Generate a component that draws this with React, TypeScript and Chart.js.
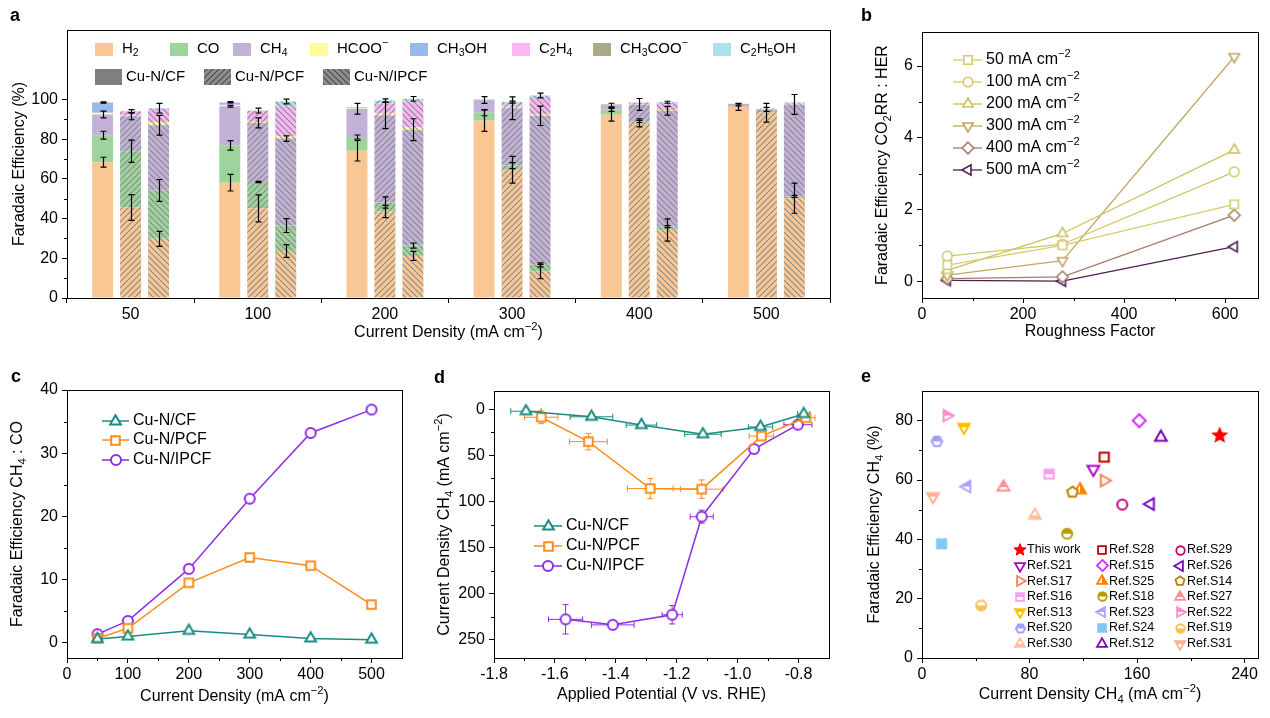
import React, { useEffect, useRef } from 'react';
import { Chart, registerables } from 'chart.js';
Chart.register(...registerables);

const FONT = '"Liberation Sans", Arial, Helvetica, sans-serif';

// ---------------- Panel a data ----------------
const densityLabels = ['50', '100', '200', '300', '400', '500'];
const productNames = ['H_{2}', 'CO', 'CH_{4}', 'HCOO^{−}', 'CH_{3}OH', 'C_{2}H_{4}', 'CH_{3}COO^{−}', 'C_{2}H_{5}OH'];
const productColors = ['#f9c794', '#9dd49b', '#c3b1d8', '#fdfd98', '#98b9ef', '#fab6f5', '#abab8c', '#abe1ea'];
const catalystNames = ['Cu-N/CF', 'Cu-N/PCF', 'Cu-N/IPCF'];

const cfH2 = [68.4, 58.1, 74.2, 89.4, 92.3, 96.3];
const cfCO = [13.6, 18.8, 6.9, 3.9, 2.7, 0];
const cfCH4 = [10.4, 19.7, 14.2, 6.4, 2.1, 1.0];
const cfHCOO = [0.9, 0.7, 0.3, 0, 0, 0];
const cfCH3OH = [5.0, 1.0, 0, 0.3, 0, 0];
const cfC2H4 = [0, 0.3, 0.7, 0, 0, 0];
const cfCH3COO = [0.2, 0, 0, 0, 0.4, 0.5];
const cfC2H5OH = [0, 0, 0, 0, 0, 0];

const pcfH2 = [45.6, 45.1, 43.6, 64.6, 88.2, 93.3];
const pcfCO = [28.3, 13.3, 4.5, 2.1, 0.7, 0.3];
const pcfCH4 = [17.7, 29.8, 43.8, 28.9, 8.6, 1.4];
const pcfHCOO = [0.3, 0.5, 1.0, 0.7, 0.2, 0.5];
const pcfCH3OH = [0, 0, 0, 0, 0, 0];
const pcfC2H4 = [2.2, 5.7, 5.1, 1.0, 0.8, 0];
const pcfCH3COO = [0, 0, 0, 0, 0, 0];
const pcfC2H5OH = [0, 0, 1.5, 1.4, 0, 0];

const ipcfH2 = [29.8, 23.7, 21.2, 13.3, 34.3, 50.3];
const ipcfCO = [24.4, 12.8, 5.2, 3.4, 1.7, 0.9];
const ipcfCH4 = [32.8, 43.8, 58.4, 75.1, 58.3, 46.3];
const ipcfHCOO = [1.4, 1.2, 1.2, 0.6, 0.3, 0];
const ipcfCH3OH = [0, 0, 0, 0, 0, 0];
const ipcfC2H4 = [6.9, 14.8, 13.0, 8.4, 3.2, 0.5];
const ipcfCH3COO = [0, 0, 0, 0, 0, 0];
const ipcfC2H5OH = [0.3, 2.7, 1.3, 1.2, 0.8, 0.5];

// error bars at H2 top, CO top, CH4 top, total top
const cfErrH2 = [2.5, 4.2, 5.2, 5.5, 3.2, 1.8];
const cfErrCO = [2.0, 2.4, 1.0, 1.5, 1.0, 0];
const cfErrCH4 = [1.7, 0.4, 2.7, 1.7, 1.0, 0.5];
const cfErrTop = [0.3, 0.3, 0, 0, 0, 0];
const pcfErrH2 = [6.5, 6.8, 3.1, 6.7, 2.0, 4.7];
const pcfErrCO = [5.6, 0.3, 2.8, 1.5, 0.5, 0];
const pcfErrCH4 = [1.8, 2.5, 6.6, 5.7, 3.0, 1.0];
const pcfErrTop = [0.8, 1.2, 0.8, 0.5, 0, 0];
const ipcfErrH2 = [3.8, 3.2, 2.3, 3.6, 5.6, 7.6];
const ipcfErrCO = [5.5, 3.5, 1.3, 1.0, 0.5, 0.5];
const ipcfErrCH4 = [5.0, 1.4, 5.5, 4.9, 2.2, 5.0];
const ipcfErrTop = [2.4, 1.2, 1.2, 1.2, 0.5, 0];

// ---------------- Panel b data ----------------
const roughness = [50, 278, 618];
const ratio50 = [0.45, 1.0, 2.14];
const ratio100 = [0.7, 1.03, 3.05];
const ratio200 = [0.3, 1.33, 3.66];
const ratio300 = [0.17, 0.57, 6.26];
const ratio400 = [0.07, 0.12, 1.84];
const ratio500 = [0.02, 0.0, 0.96];
const ratioLabels = ['50 mA cm^{−2}', '100 mA cm^{−2}', '200 mA cm^{−2}', '300 mA cm^{−2}', '400 mA cm^{−2}', '500 mA cm^{−2}'];
const ratioColors = ['#d3cd6c', '#d0c665', '#cdc060', '#c2a763', '#a87b6c', '#4d1f52'];

// ---------------- Panel c data ----------------
const densityC = [50, 100, 200, 300, 400, 500];
const ch4coCF = [0.6, 1.0, 1.9, 1.3, 0.7, 0.5];
const ch4coPCF = [0.7, 2.3, 9.5, 13.5, 12.2, 6.05];
const ch4coIPCF = [1.37, 3.47, 11.7, 22.8, 33.2, 36.9];
const seriesColors = ['#1b8c83', '#ff8c1a', '#8e2ee6'];

// ---------------- Panel d data ----------------
const potCF = [-1.695, -1.48, -1.316, -1.114, -0.925, -0.783];
const jCF = [2, 8, 17, 27, 19, 5];
const potErrCF = [0.05, 0.07, 0.05, 0.06, 0.04, 0.02];
const jErrCF = [1, 2, 2, 2, 2, 1];
const potPCF = [-1.645, -1.49, -1.287, -1.118, -0.922, -0.776];
const jPCF = [8.5, 35, 86, 86.6, 29, 9];
const potErrPCF = [0.055, 0.062, 0.075, 0.07, 0.04, 0.03];
const jErrPCF = [7, 9, 11, 10, 3, 2];
const potIPCF = [-1.565, -1.41, -1.215, -1.118, -0.946, -0.802];
const jIPCF = [228, 234, 223, 116.5, 43, 16.6];
const potErrIPCF = [0.056, 0.07, 0.033, 0.038, 0.01, 0.046];
const jErrIPCF = [16, 3, 10, 7, 2, 3];

// ---------------- Panel e data ----------------
const refLabels = ['This work', 'Ref.S28', 'Ref.S29', 'Ref.S21', 'Ref.S15', 'Ref.S26', 'Ref.S17', 'Ref.S25', 'Ref.S14', 'Ref.S16', 'Ref.S18', 'Ref.S27', 'Ref.S13', 'Ref.S23', 'Ref.S22', 'Ref.S20', 'Ref.S24', 'Ref.S19', 'Ref.S30', 'Ref.S12', 'Ref.S31'];
const refJ = [221.5, 135.6, 149, 127.5, 161.6, 170, 135.6, 117.6, 111.9, 94.6, 108, 60.6, 31.2, 33.4, 18.6, 11.1, 14.6, 44, 83.9, 177.7, 8.2];
const refFE = [75, 67.7, 51.7, 63.6, 80, 51.9, 59.8, 56.7, 55.9, 62, 41.9, 57.6, 77.8, 57.8, 81.7, 73, 38.5, 17.7, 48.1, 74.4, 54.4];
const refShapes = ['star', 'square', 'circle', 'triDown', 'diamond', 'triLeft', 'triRight', 'triUp', 'pentagon', 'square', 'circle', 'triUp', 'triDown', 'triLeft', 'triRight', 'hexagon', 'square', 'circle', 'triUp', 'triUp', 'triDown'];
const refColors = ['#ff0000', '#c00000', '#c0007a', '#b000c8', '#d42cff', '#7a00c0', '#ff7f50', '#ff8000', '#c08000', '#ff9df0', '#b89c00', '#ff9090', '#ffc000', '#b4a0ff', '#ff90c8', '#a0a0ff', '#80c8f8', '#ffc050', '#ffbfa0', '#7b00c0', '#ffb090'];
const refFills = ['full', 'none', 'none', 'none', 'none', 'none', 'none', 'right', 'none', 'top', 'top', 'top', 'top', 'top', 'top', 'top', 'full', 'bottom', 'bottom', 'none', 'top'];

// ---------------- helpers ----------------
function parseRich(s: string) {
  const out: { t: string; k: number }[] = [];
  const re = /([_^])\{([^}]*)\}/g;
  let last = 0;
  let m: any;
  while ((m = re.exec(s))) {
    if (m.index > last) out.push({ t: s.slice(last, m.index), k: 0 });
    out.push({ t: m[2], k: m[1] === '^' ? 1 : -1 });
    last = re.lastIndex;
  }
  if (last < s.length) out.push({ t: s.slice(last), k: 0 });
  return out;
}

function drawRich(ctx: any, s: string, x: number, y: number, size: number, align = 'left', rotate = false, color = '#000') {
  const segs = parseRich(s);
  const sub = size * 0.7;
  ctx.save();
  ctx.translate(x, y);
  if (rotate) ctx.rotate(-Math.PI / 2);
  ctx.textBaseline = 'middle';
  ctx.textAlign = 'left';
  ctx.fillStyle = color;
  let w = 0;
  const ws = segs.map((sg) => {
    ctx.font = `${sg.k ? sub : size}px ${FONT}`;
    const mw = ctx.measureText(sg.t).width;
    w += mw;
    return mw;
  });
  let cx = align === 'center' ? -w / 2 : align === 'right' ? -w : 0;
  segs.forEach((sg, i) => {
    ctx.font = `${sg.k ? sub : size}px ${FONT}`;
    const dy = sg.k === -1 ? size * 0.3 : sg.k === 1 ? -size * 0.36 : 0;
    ctx.fillText(sg.t, cx, dy);
    cx += ws[i];
  });
  ctx.restore();
}

function shapePath(g: any, shape: string, R: number) {
  g.beginPath();
  const poly = (n: number, rot: number, rad: number) => {
    for (let i = 0; i < n; i++) {
      const a = rot + (i * 2 * Math.PI) / n;
      const px = rad * Math.cos(a);
      const py = rad * Math.sin(a);
      if (i) g.lineTo(px, py);
      else g.moveTo(px, py);
    }
    g.closePath();
  };
  switch (shape) {
    case 'circle': g.arc(0, 0, R, 0, Math.PI * 2); break;
    case 'square': g.rect(-R, -R, 2 * R, 2 * R); break;
    case 'triUp': poly(3, -Math.PI / 2, R); break;
    case 'triDown': poly(3, Math.PI / 2, R); break;
    case 'triLeft': poly(3, Math.PI, R); break;
    case 'triRight': poly(3, 0, R); break;
    case 'diamond': poly(4, -Math.PI / 2, R); break;
    case 'pentagon': poly(5, -Math.PI / 2, R); break;
    case 'hexagon': poly(6, 0, R); break;
    case 'star': {
      for (let i = 0; i < 10; i++) {
        const a = -Math.PI / 2 + (i * Math.PI) / 5;
        const rr = i % 2 ? R * 0.45 : R;
        const px = rr * Math.cos(a);
        const py = rr * Math.sin(a);
        if (i) g.lineTo(px, py);
        else g.moveTo(px, py);
      }
      g.closePath();
      break;
    }
  }
}

function makeMarker(shape: string, color: string, fill: string, R: number, lw: number) {
  const size = Math.ceil(2 * R + lw + 4);
  const c = document.createElement('canvas');
  c.width = size;
  c.height = size;
  const g = c.getContext('2d') as any;
  g.translate(size / 2, size / 2);
  g.lineWidth = lw;
  g.strokeStyle = color;
  g.lineJoin = 'miter';
  shapePath(g, shape, R);
  g.fillStyle = '#fff';
  g.fill();
  if (fill !== 'none') {
    g.save();
    if (fill !== 'full') {
      g.beginPath();
      const L = size;
      if (fill === 'top') g.rect(-L, -L, 2 * L, L);
      else if (fill === 'bottom') g.rect(-L, 0, 2 * L, L);
      else if (fill === 'left') g.rect(-L, -L, L, 2 * L);
      else g.rect(0, -L, L, 2 * L);
      g.clip();
    }
    shapePath(g, shape, R);
    g.fillStyle = color;
    g.fill();
    g.restore();
  }
  shapePath(g, shape, R);
  g.stroke();
  return c;
}

function makeHatch(ctx: any, color: string, dir: number, lineColor: string) {
  const s = 6;
  const c = document.createElement('canvas');
  c.width = s;
  c.height = s;
  const g = c.getContext('2d') as any;
  g.fillStyle = color;
  g.fillRect(0, 0, s, s);
  g.strokeStyle = lineColor;
  g.lineWidth = 1.1;
  g.beginPath();
  if (dir === 1) {
    g.moveTo(0, s); g.lineTo(s, 0);
    g.moveTo(-1, 1); g.lineTo(1, -1);
    g.moveTo(s - 1, s + 1); g.lineTo(s + 1, s - 1);
  } else {
    g.moveTo(0, 0); g.lineTo(s, s);
    g.moveTo(s - 1, -1); g.lineTo(s + 1, 1);
    g.moveTo(-1, s - 1); g.lineTo(1, s + 1);
  }
  g.stroke();
  return ctx.createPattern(c, 'repeat');
}

const tickFont = { family: FONT, size: 16 };

function gridOpts(extra: any = {}) {
  return { display: true, drawOnChartArea: false, drawTicks: true, tickLength: 5, color: '#000', lineWidth: 1, ...extra };
}

function linAxis(min: number, max: number, major: number[], fix: number, vertical: boolean, extra: any = {}) {
  return {
    type: 'linear',
    min,
    max,
    afterBuildTicks: (s: any) => { s.ticks = major.map((v) => ({ value: v })); },
    afterFit: (s: any) => { if (vertical) s.width = fix; else s.height = fix; },
    grid: gridOpts(),
    border: { display: false },
    ticks: { color: '#000', font: tickFont, padding: vertical ? 4 : 2, maxRotation: 0, autoSkip: false, ...(extra.ticks || {}) },
    reverse: !!extra.reverse,
  };
}

function decoPlugin(cfg: any) {
  return {
    id: 'deco' + Math.random().toString(36).slice(2),
    beforeDatasetsDraw(chart: any) { if (cfg.before) cfg.before(chart); },
    afterDatasetsDraw(chart: any) { if (cfg.afterData) cfg.afterData(chart); },
    afterDraw(chart: any) {
      const { ctx, chartArea: a, scales } = chart;
      ctx.save();
      ctx.strokeStyle = '#000';
      ctx.lineWidth = 1;
      ctx.strokeRect(Math.round(a.left) + 0.5, Math.round(a.top) + 0.5, Math.round(a.right - a.left), Math.round(a.bottom - a.top));
      ctx.beginPath();
      (cfg.minorX || []).forEach((v: number) => {
        const x = Math.round(scales.x.getPixelForValue(v)) + 0.5;
        ctx.moveTo(x, a.bottom);
        ctx.lineTo(x, a.bottom + 3);
      });
      (cfg.minorY || []).forEach((v: number) => {
        const y = Math.round(scales.y.getPixelForValue(v)) + 0.5;
        ctx.moveTo(a.left, y);
        ctx.lineTo(a.left - 3, y);
      });
      ctx.stroke();
      ctx.restore();
      const cx = (a.left + a.right) / 2;
      const cy = (a.top + a.bottom) / 2;
      drawRich(ctx, cfg.xTitle, cx, cfg.xTitleY, 16, 'center');
      drawRich(ctx, cfg.yTitle, cfg.yTitleX, cy, 16, 'center', true);
      if (cfg.legend) cfg.legend(chart);
    },
  };
}

function drawLineLegend(ctx: any, items: any[], x1: number, x2: number, ys: number[], tx: number, size: number) {
  items.forEach((it, i) => {
    const y = ys[i];
    ctx.save();
    ctx.strokeStyle = it.color;
    ctx.lineWidth = it.lw;
    ctx.beginPath();
    ctx.moveTo(x1, y);
    ctx.lineTo(x2, y);
    ctx.stroke();
    ctx.restore();
    const mk = it.marker;
    ctx.drawImage(mk, Math.round((x1 + x2) / 2 - mk.width / 2), Math.round(y - mk.height / 2));
    drawRich(ctx, it.label, tx, y, size, 'left');
  });
}

// ---------------- chart builders ----------------
function buildA(canvas: HTMLCanvasElement) {
  const ctx = canvas.getContext('2d') as any;
  const series = [
    [cfH2, cfCO, cfCH4, cfHCOO, cfCH3OH, cfC2H4, cfCH3COO, cfC2H5OH],
    [pcfH2, pcfCO, pcfCH4, pcfHCOO, pcfCH3OH, pcfC2H4, pcfCH3COO, pcfC2H5OH],
    [ipcfH2, ipcfCO, ipcfCH4, ipcfHCOO, ipcfCH3OH, ipcfC2H4, ipcfCH3COO, ipcfC2H5OH],
  ];
  const errs = [
    [cfErrH2, cfErrCO, cfErrCH4, cfErrTop],
    [pcfErrH2, pcfErrCO, pcfErrCH4, pcfErrTop],
    [ipcfErrH2, ipcfErrCO, ipcfErrCH4, ipcfErrTop],
  ];
  const datasets: any[] = [];
  series.forEach((prods, ci) => {
    prods.forEach((arr, pi) => {
      const col = productColors[pi];
      const bg = ci === 0 ? col : makeHatch(ctx, col, ci === 1 ? 1 : -1, '#8a8a8a');
      datasets.push({ label: catalystNames[ci] + ' ' + productNames[pi], data: arr, backgroundColor: bg, borderWidth: 0, stack: catalystNames[ci] });
    });
  });
  const legendHatchP = makeHatch(ctx, '#8e8e8e', 1, '#4a4a4a');
  const legendHatchI = makeHatch(ctx, '#8e8e8e', -1, '#4a4a4a');
  const boxX = [95, 170, 233, 310, 410, 512, 593, 713];
  const box2X = [95, 204, 323];
  return new Chart(canvas, {
    type: 'bar',
    data: { labels: densityLabels, datasets },
    options: {
      animation: false,
      responsive: false,
      layout: { padding: { left: 0, right: 20, top: 30, bottom: 0 } },
      plugins: { legend: { display: false }, tooltip: { enabled: false } },
      datasets: { bar: { categoryPercentage: 0.66, barPercentage: 0.75 } },
      scales: {
        x: {
          stacked: true,
          afterFit: (s: any) => { s.height = 47; },
          grid: gridOpts({ offset: true }),
          border: { display: false },
          ticks: { color: '#000', font: tickFont, padding: 2, maxRotation: 0 },
        },
        y: { ...linAxis(0, 135, [0, 20, 40, 60, 80, 100], 67, true), stacked: true },
      },
    } as any,
    plugins: [
      decoPlugin({
        minorY: [10, 30, 50, 70, 90],
        xTitle: 'Current Density (mA cm^{−2})',
        xTitleY: 333,
        yTitle: 'Faradaic Efficiency (%)',
        yTitleX: 20,
        afterData: (chart: any) => {
          const c = chart.ctx;
          const y = chart.scales.y;
          c.save();
          c.strokeStyle = '#000';
          c.lineWidth = 1.2;
          series.forEach((prods, ci) => {
            const meta = chart.getDatasetMeta(ci * 8);
            densityLabels.forEach((_, j) => {
              const x = Math.round(meta.data[j].x) + 0.5;
              const h2 = prods[0][j];
              const co = h2 + prods[1][j];
              const ch4 = co + prods[2][j];
              const tot = prods.reduce((s, arr) => s + arr[j], 0);
              [h2, co, ch4, tot].forEach((v, k) => {
                const e = errs[ci][k][j];
                if (!e) return;
                const y1 = y.getPixelForValue(v - e);
                const y2 = y.getPixelForValue(v + e);
                c.beginPath();
                c.moveTo(x, y1); c.lineTo(x, y2);
                c.moveTo(x - 3, y1); c.lineTo(x + 3, y1);
                c.moveTo(x - 3, y2); c.lineTo(x + 3, y2);
                c.stroke();
              });
            });
          });
          c.restore();
        },
        legend: (chart: any) => {
          const c = chart.ctx;
          productNames.forEach((nm, i) => {
            c.fillStyle = productColors[i];
            c.fillRect(boxX[i], 43, 18, 13);
            drawRich(c, nm, boxX[i] + 27, 49, 15, 'left');
          });
          const fills = ['#7f7f7f', legendHatchP, legendHatchI];
          catalystNames.forEach((nm, i) => {
            c.fillStyle = fills[i];
            c.fillRect(box2X[i], 69, 27, 16);
            drawRich(c, nm, box2X[i] + 31, 77, 15, 'left');
          });
        },
      }),
    ],
  });
}

function buildB(canvas: HTMLCanvasElement) {
  const shapes = ['square', 'circle', 'triUp', 'triDown', 'diamond', 'triLeft'];
  const radii = [4.2, 4.8, 6, 6, 5.8, 6];
  const values = [ratio50, ratio100, ratio200, ratio300, ratio400, ratio500];
  const markers = shapes.map((s, i) => makeMarker(s, ratioColors[i], 'none', radii[i], 1.6));
  const datasets = values.map((vals, i) => ({
    label: ratioLabels[i],
    data: roughness.map((x, k) => ({ x, y: vals[k] })),
    borderColor: ratioColors[i],
    borderWidth: 1.3,
    pointStyle: markers[i],
    pointRadius: 5,
    fill: false,
  }));
  return new Chart(canvas, {
    type: 'line',
    data: { datasets },
    options: {
      animation: false,
      responsive: false,
      layout: { padding: { left: 0, right: 12, top: 32, bottom: 0 } },
      plugins: { legend: { display: false }, tooltip: { enabled: false } },
      scales: {
        x: linAxis(0, 665, [0, 200, 400, 600], 47, false),
        y: linAxis(-0.47, 6.95, [0, 2, 4, 6], 72, true),
      },
    } as any,
    plugins: [
      decoPlugin({
        minorX: [100, 300, 500],
        minorY: [1, 3, 5],
        xTitle: 'Roughness Factor',
        xTitleY: 332,
        yTitle: 'Faradaic Efficiency CO_{2}RR : HER',
        yTitleX: 33,
        legend: (chart: any) => {
          drawLineLegend(chart.ctx, ratioLabels.map((l, i) => ({ label: l, color: ratioColors[i], lw: 1.3, marker: markers[i] })), 103, 132, [60, 82, 104, 126, 148, 170], 136, 16);
        },
      }),
    ],
  });
}

function buildC(canvas: HTMLCanvasElement) {
  const markers = [
    makeMarker('triUp', seriesColors[0], 'none', 6.2, 2),
    makeMarker('square', seriesColors[1], 'none', 4.3, 2),
    makeMarker('circle', seriesColors[2], 'none', 5, 2),
  ];
  const vals = [ch4coCF, ch4coPCF, ch4coIPCF];
  const datasets = vals.map((v, i) => ({
    label: catalystNames[i],
    data: densityC.map((x, k) => ({ x, y: v[k] })),
    borderColor: seriesColors[i],
    borderWidth: 1.5,
    pointStyle: markers[i],
    pointRadius: 5,
  }));
  return new Chart(canvas, {
    type: 'line',
    data: { datasets },
    options: {
      animation: false,
      responsive: false,
      layout: { padding: { left: 0, right: 23, top: 30, bottom: 0 } },
      plugins: { legend: { display: false }, tooltip: { enabled: false } },
      scales: {
        x: linAxis(0, 550, [0, 100, 200, 300, 400, 500], 60, false),
        y: linAxis(-2.4, 40, [0, 10, 20, 30, 40], 67, true),
      },
    } as any,
    plugins: [
      decoPlugin({
        minorX: [50, 150, 250, 350, 450],
        minorY: [5, 15, 25, 35],
        xTitle: 'Current Density (mA cm^{−2})',
        xTitleY: 337,
        yTitle: 'Faradaic Efficiency CH_{4} : CO',
        yTitleX: 18,
        legend: (chart: any) => {
          drawLineLegend(chart.ctx, catalystNames.map((l, i) => ({ label: l, color: seriesColors[i], lw: 1.5, marker: markers[i] })), 102, 129, [61, 80, 100], 133, 16);
        },
      }),
    ],
  });
}

function buildD(canvas: HTMLCanvasElement) {
  const markers = [
    makeMarker('triUp', seriesColors[0], 'none', 6.2, 2),
    makeMarker('square', seriesColors[1], 'none', 4.3, 2),
    makeMarker('circle', seriesColors[2], 'none', 5, 2),
  ];
  const xs = [potCF, potPCF, potIPCF];
  const ys = [jCF, jPCF, jIPCF];
  const xe = [potErrCF, potErrPCF, potErrIPCF];
  const ye = [jErrCF, jErrPCF, jErrIPCF];
  const datasets = xs.map((xv, i) => ({
    label: catalystNames[i],
    data: xv.map((x, k) => ({ x, y: ys[i][k] })),
    borderColor: seriesColors[i],
    borderWidth: 1.5,
    pointStyle: markers[i],
    pointRadius: 5,
  }));
  return new Chart(canvas, {
    type: 'line',
    data: { datasets },
    options: {
      animation: false,
      responsive: false,
      layout: { padding: { left: 0, right: 21, top: 31, bottom: 0 } },
      plugins: { legend: { display: false }, tooltip: { enabled: false } },
      scales: {
        x: linAxis(-1.8, -0.7, [-1.8, -1.6, -1.4, -1.2, -1.0, -0.8], 60, false, { ticks: { callback: (v: any) => Number(v).toFixed(1) } }),
        y: linAxis(-20, 270, [0, 50, 100, 150, 200, 250], 69, true, { reverse: true }),
      },
    } as any,
    plugins: [
      decoPlugin({
        minorX: [-1.7, -1.5, -1.3, -1.1, -0.9],
        minorY: [25, 75, 125, 175, 225],
        xTitle: 'Applied Potential (V vs. RHE)',
        xTitleY: 335,
        yTitle: 'Current Density CH_{4} (mA cm^{−2})',
        yTitleX: 20,
        before: (chart: any) => {
          const c = chart.ctx;
          const sx = chart.scales.x;
          const sy = chart.scales.y;
          c.save();
          c.lineWidth = 1;
          xs.forEach((xv, i) => {
            c.strokeStyle = seriesColors[i];
            xv.forEach((x, k) => {
              const y = ys[i][k];
              const px = sx.getPixelForValue(x);
              const py = sy.getPixelForValue(y);
              const x1 = sx.getPixelForValue(x - xe[i][k]);
              const x2 = sx.getPixelForValue(x + xe[i][k]);
              const y1 = sy.getPixelForValue(y - ye[i][k]);
              const y2 = sy.getPixelForValue(y + ye[i][k]);
              c.beginPath();
              c.moveTo(x1, py); c.lineTo(x2, py);
              c.moveTo(x1, py - 3); c.lineTo(x1, py + 3);
              c.moveTo(x2, py - 3); c.lineTo(x2, py + 3);
              c.moveTo(px, y1); c.lineTo(px, y2);
              c.moveTo(px - 3, y1); c.lineTo(px + 3, y1);
              c.moveTo(px - 3, y2); c.lineTo(px + 3, y2);
              c.stroke();
            });
          });
          c.restore();
        },
        legend: (chart: any) => {
          drawLineLegend(chart.ctx, catalystNames.map((l, i) => ({ label: l, color: seriesColors[i], lw: 1.5, marker: markers[i] })), 109, 137, [166, 186, 206], 141, 16);
        },
      }),
    ],
  });
}

function buildE(canvas: HTMLCanvasElement) {
  const radius = (s: string) => (s === 'square' ? 4.6 : s === 'circle' ? 5 : s === 'star' ? 7.5 : s === 'diamond' ? 6.5 : s === 'pentagon' ? 5.6 : s === 'hexagon' ? 5.4 : 6.8);
  const markers = refShapes.map((s, i) => makeMarker(s, refColors[i], refFills[i], radius(s), s === 'star' ? 1.2 : 2));
  const legMarkers = refShapes.map((s, i) => makeMarker(s, refColors[i], refFills[i], radius(s) * 0.85, s === 'star' ? 1 : 1.8));
  return new Chart(canvas, {
    type: 'scatter',
    data: {
      datasets: [
        {
          label: 'CH4 FE',
          data: refJ.map((x, k) => ({ x, y: refFE[k] })),
          pointStyle: markers,
          pointRadius: 5,
        },
      ],
    },
    options: {
      animation: false,
      responsive: false,
      layout: { padding: { left: 0, right: 12, top: 31, bottom: 0 } },
      plugins: { legend: { display: false }, tooltip: { enabled: false } },
      scales: {
        x: linAxis(0, 250, [0, 80, 160, 240], 60, false),
        y: linAxis(0, 90, [0, 20, 40, 60, 80], 72, true),
      },
    } as any,
    plugins: [
      decoPlugin({
        minorX: [40, 120, 200],
        minorY: [10, 30, 50, 70],
        xTitle: 'Current Density CH_{4} (mA cm^{−2})',
        xTitleY: 335,
        yTitle: 'Faradaic Efficiency CH_{4} (%)',
        yTitleX: 25,
        legend: (chart: any) => {
          const c = chart.ctx;
          const colM = [170, 252, 330];
          const colT = [177, 259, 337];
          refLabels.forEach((lab, i) => {
            const col = i % 3;
            const row = Math.floor(i / 3);
            const y = 190 + row * 15.6;
            const mk = legMarkers[i];
            c.drawImage(mk, Math.round(colM[col] - mk.width / 2), Math.round(y - mk.height / 2));
            drawRich(c, lab, colT[col], y, 12.5, 'left');
          });
        },
      }),
    ],
  });
}

function ChartBox({ left, top, width, height, make }: any) {
  const ref = useRef<HTMLCanvasElement>(null);
  useEffect(() => {
    const chart = make(ref.current as HTMLCanvasElement);
    return () => chart.destroy();
  }, []);
  return <canvas ref={ref} width={width} height={height} style={{ position: 'absolute', left, top, width, height }} />;
}

const letterStyle: any = { position: 'absolute', fontFamily: FONT, fontWeight: 'bold', fontSize: 18, lineHeight: '20px', color: '#000' };

export default function App() {
  return (
    <div style={{ position: 'absolute', left: 0, top: 0, width: 1270, height: 718, background: '#fff', overflow: 'hidden' }}>
      <ChartBox left={0} top={0} width={850} height={345} make={buildA} />
      <ChartBox left={850} top={0} width={420} height={345} make={buildB} />
      <ChartBox left={0} top={360} width={425} height={358} make={buildC} />
      <ChartBox left={425} top={360} width={425} height={358} make={buildD} />
      <ChartBox left={850} top={360} width={420} height={358} make={buildE} />
      <div style={{ ...letterStyle, left: 10, top: 5 }}>a</div>
      <div style={{ ...letterStyle, left: 861, top: 5 }}>b</div>
      <div style={{ ...letterStyle, left: 11, top: 366 }}>c</div>
      <div style={{ ...letterStyle, left: 434, top: 367 }}>d</div>
      <div style={{ ...letterStyle, left: 861, top: 366 }}>e</div>
    </div>
  );
}
